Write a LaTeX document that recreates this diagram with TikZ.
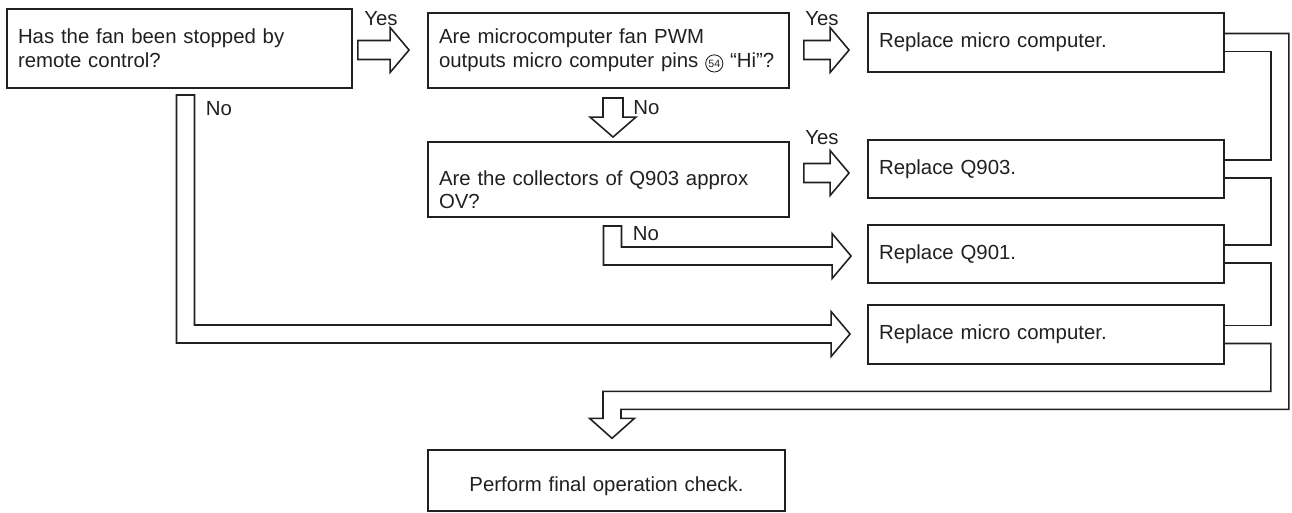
\documentclass[tikz,border=0pt]{standalone}
\usepackage{fontspec}
\setmainfont{Liberation Sans}
\usetikzlibrary{calc, positioning}
\definecolor{inkblack}{RGB}{35, 31, 32}
\newcommand{\flowfont}{\fontsize{11.6}{13.5}\selectfont}
\tikzset{
  flowbox/.style={rectangle, draw=inkblack, line width=1.1pt, inner xsep=0.22cm, inner ysep=0pt, align=left, font=\flowfont, text=inkblack},
  question/.style={flowbox, minimum width=7.22cm, minimum height=1.5cm, text width=6.78cm},
  remedy/.style={flowbox, minimum width=7.12cm, minimum height=1.17cm, text width=6.68cm},
  finalbox/.style={flowbox, minimum width=7.14cm, minimum height=1.21cm, text width=6.7cm, align=center},
  hollow/.style={draw=inkblack, line width=0.9pt, fill=white},
  pipe/.style={draw=inkblack, line width=0.9pt},
  answer/.style={font=\flowfont, text=inkblack, inner sep=0pt, anchor=base west}
}
% circled pin number
\newcommand{\pinmark}[1]{\tikz[baseline=(p.base)]\node[circle, draw=inkblack, line width=0.5pt, inner sep=0.7pt, minimum size=0pt, text width=, align=center, font=\fontsize{6}{6}\selectfont] (p) {#1};}
% block arrows: tail, tip
\newcommand{\hollowright}[2]{%
  \draw[hollow] ($(#1)+(0,-9.5)$) -- ($(#2)+(-19,-9.5)$) -- ($(#2)+(-19,-22.5)$) -- (#2)
    -- ($(#2)+(-19,22.5)$) -- ($(#2)+(-19,9.5)$) -- ($(#1)+(0,9.5)$) -- cycle;}
\newcommand{\hollowdown}[2]{%
  \draw[hollow] ($(#1)+(-10,0)$) -- ($(#2)+(-10,-20)$) -- ($(#2)+(-23,-20)$) -- (#2)
    -- ($(#2)+(23,-20)$) -- ($(#2)+(10,-20)$) -- ($(#1)+(10,0)$) -- cycle;}
\newcommand{\hollowcorner}[2]{%
  \draw[hollow] ($(#1)+(-9,0)$) -- ($(#1 |- #2)+(-9,9)$) -- ($(#2)+(-19,9)$) -- ($(#2)+(-19,22.5)$) -- (#2)
    -- ($(#2)+(-19,-22.5)$) -- ($(#2)+(-19,-9)$) -- ($(#1 |- #2)+(9,-9)$) -- ($(#1)+(9,0)$) -- cycle;}

\begin{document}
\begin{tikzpicture}[x=0.02cm, y=-0.02cm]
  \useasboundingbox (0,0) rectangle (1292,512);
  \clip (0,0) rectangle (1292,512);

  % questions
  \node[question, minimum width=6.9cm, minimum height=1.58cm, text width=6.46cm] (qA) at (179.5,48.5) {Has the fan been stopped by\\remote control?};
  \node[question] (qB) at (608.5,50.5) {Are microcomputer fan PWM\\outputs~micro~computer~pins~\pinmark{54}~“Hi”?};
  \node[question] (qD) at (608.5,179.5) {\rule{0pt}{20pt}Are the collectors of Q903 approx\\OV?};

  % remedies
  \node[remedy] (rC) at (1046,42.5) {Replace micro computer.};
  \node[remedy] (rE) at (1046,169) {Replace Q903.};
  \node[remedy] (rF) at (1046,254) {Replace Q901.};
  \node[remedy] (rG) at (1046,334.5) {Replace micro computer.};
  \node[finalbox] (fH) at (606.5,480.5) {\rule{0pt}{15pt}Perform final operation check.};

  % Yes branches
  \coordinate (yesA) at ($(qA.east)+(5,1.5)$);
  \coordinate (yesAtip) at ($(qB.west)+(-18,-0.5)$);
  \hollowright{yesA}{yesAtip}
  \node[answer] (lyesA) at ($(yesA)+(6,-25)$) {Yes};

  \coordinate (yesB) at ($(qB.east)+(14,-0.5)$);
  \coordinate (yesBtip) at ($(rC.west)+(-18,7.5)$);
  \hollowright{yesB}{yesBtip}
  \node[answer] (lyesB) at ($(yesB)+(1,-25)$) {Yes};

  \coordinate (yesD) at ($(qD.east)+(14,-6.5)$);
  \coordinate (yesDtip) at ($(rE.west)+(-18,4)$);
  \hollowright{yesD}{yesDtip}
  \node[answer] (lyesD) at ($(yesD)+(1,-29)$) {Yes};

  % No branches
  \coordinate (noB) at ($(qB.south)+(4.5,9)$);
  \coordinate (noBtip) at ($(qD.north)+(4.5,-4)$);
  \hollowdown{noB}{noBtip}
  \node[answer] (lnoB) at ($(noB)+(20,17)$) {No};

  \coordinate (noD) at ($(qD.south)+(4,8)$);
  \coordinate (noDtip) at ($(rF.west)+(-16,2)$);
  \hollowcorner{noD}{noDtip}
  \node[answer] (lnoD) at ($(noD)+(20,15)$) {No};

  \coordinate (noA) at ($(qA.south)+(6,6)$);
  \coordinate (noAtip) at ($(rG.west)+(-17,-0.5)$);
  \hollowcorner{noA}{noAtip}
  \node[answer] (lnoA) at ($(noA)+(20,21)$) {No};

  % collecting pipe to the final check
  \coordinate (cinner) at ($(rC.east)+(46,0)$);
  \coordinate (couter) at ($(rC.east)+(64,0)$);
  \foreach \b/\n in {rC/c, rE/e, rF/f, rG/g} {
    \coordinate (\n1) at ($(\b.east)+(0,-9)$);
    \coordinate (\n2) at ($(\b.east)+(0,9)$);
  }
  \coordinate (endtip) at ($(fH.north)+(5.5,-11)$);
  \coordinate (busin) at ($(endtip)+(0,-47)$);
  \coordinate (busout) at ($(endtip)+(0,-29)$);
  \draw[pipe] (c1) -- (couter |- c1) -- (couter |- busout) -- ($(busout)+(9,0)$) -- ($(endtip)+(9,-20)$)
    -- ($(endtip)+(22.5,-20)$) -- (endtip) -- ($(endtip)+(-22.5,-20)$) -- ($(endtip)+(-9,-20)$)
    -- ($(busin)+(-9,0)$) -- (cinner |- busin) -- (cinner |- g2) -- (g2);
  \draw[pipe] (g1) -- (cinner |- g1) -- (cinner |- f2) -- (f2);
  \draw[pipe] (f1) -- (cinner |- f1) -- (cinner |- e2) -- (e2);
  \draw[pipe] (e1) -- (cinner |- e1) -- (cinner |- c2) -- (c2);
\end{tikzpicture}
\end{document}
